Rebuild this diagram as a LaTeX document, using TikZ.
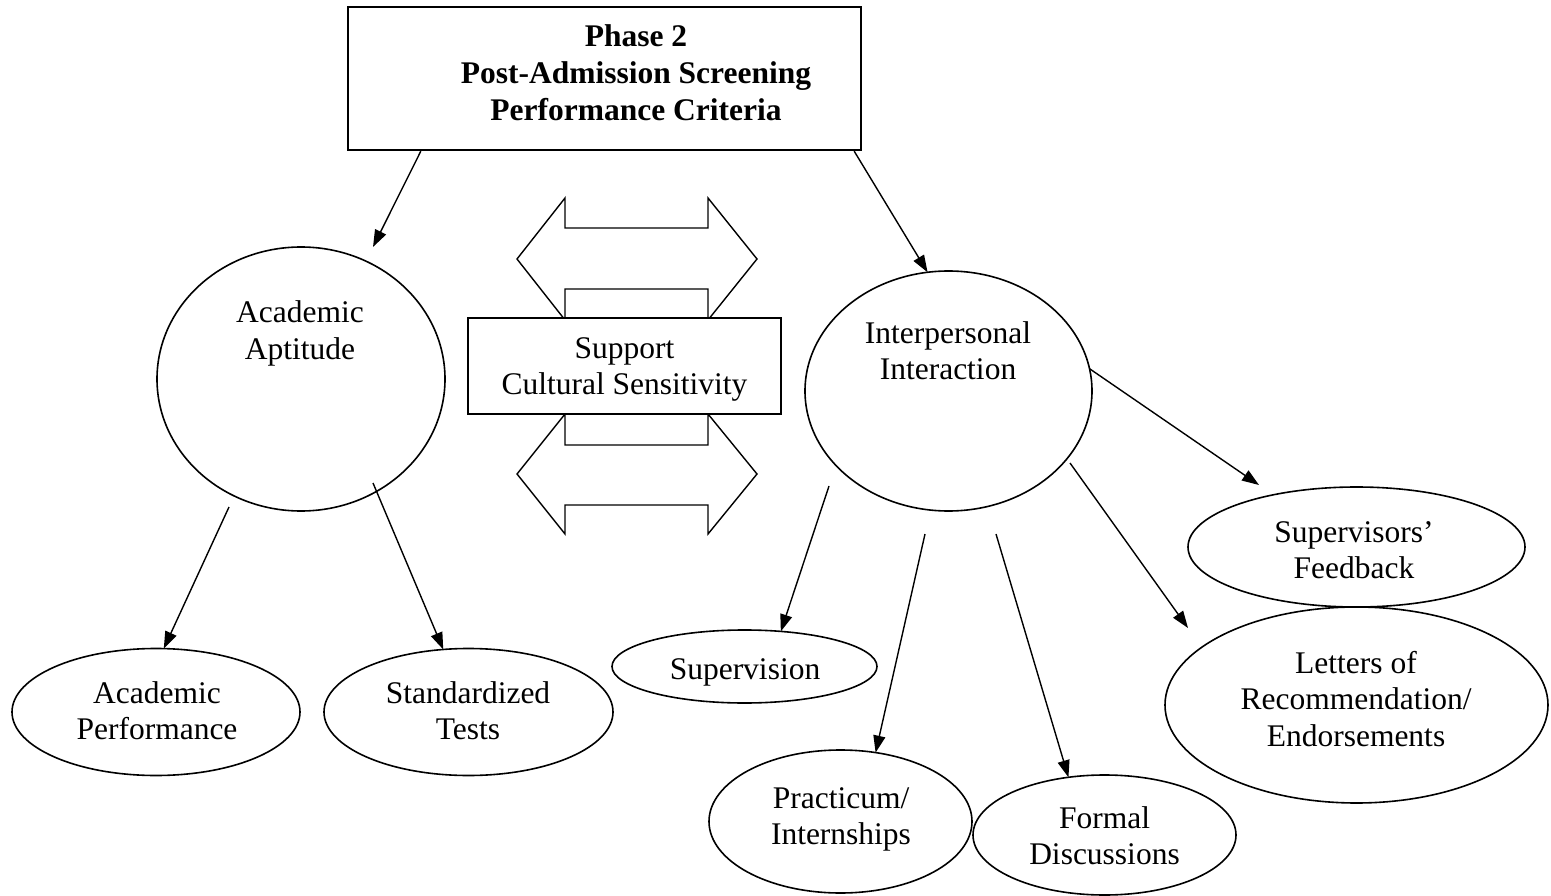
\documentclass[tikz,border=0pt]{standalone}
\usepackage{fontspec}
\setmainfont{Liberation Serif}
\usetikzlibrary{arrows.meta,calc,shapes.geometric}
\begin{document}
\begin{tikzpicture}[x=1pt,y=-1pt,
  shp/.style={draw, line width=1.6pt, ellipse, inner sep=0pt, outer sep=0pt},
  txt/.style={align=center, inner sep=0pt, font=\fontsize{31.5}{36.5}\selectfont},
  ttl/.style={align=center, inner sep=0pt, font=\fontsize{31.5}{37}\selectfont\bfseries},
  arr/.style={-{Triangle[length=17pt,width=12pt]}, line width=1.4pt},
  blockarr/.style={draw, line width=1.4pt, fill=white, line join=miter}]
\useasboundingbox (0,0) rectangle (1551,896);

% title box
\node[draw, line width=2.4pt, minimum width=513pt, minimum height=143pt, inner sep=0pt] (title) at (604.5,78.5) {};
\node[ttl] (titletext) at (636,76.3) {\strut Phase 2\\\strut Post-Admission Screening\\\strut Performance Criteria};

% block double arrows
\draw[blockarr] (517,259) -- (565,198) -- (565,228) -- (708,228) -- (708,198) -- (757,259)
  -- (708,320) -- (708,289) -- (565,289) -- (565,320) -- cycle;
\draw[blockarr] (517,474) -- (565,414) -- (565,445) -- (708,445) -- (708,414) -- (757,474)
  -- (708,534) -- (708,505) -- (565,505) -- (565,534) -- cycle;

% support box
\node[draw, fill=white, line width=1.8pt, minimum width=313pt, minimum height=96pt, inner sep=0pt] (support) at (624.5,366) {};
\node[txt] (supporttext) at (624.5,369.25) {\strut Support\\\strut Cultural Sensitivity};

% ellipses
\node[shp, minimum width=288pt, minimum height=264pt] (aa) at (301,379) {};
\node[txt] (aatext) at (300,333.95) {\strut Academic\\\strut Aptitude};

\node[shp, minimum width=287pt, minimum height=240pt] (ip) at (948.5,391) {};
\node[txt] (iptext) at (948,354.25) {\strut Interpersonal\\\strut Interaction};

\node[shp, minimum width=288pt, minimum height=127pt] (ap) at (156,712) {};
\node[txt] (aptext) at (157,713.95) {\strut Academic\\\strut Performance};

\node[shp, minimum width=289pt, minimum height=127pt] (st) at (468.5,712) {};
\node[txt] (sttext) at (468,713.95) {\strut Standardized\\\strut Tests};

\node[shp, minimum width=265pt, minimum height=73pt] (sv) at (744.5,666.5) {};
\node[txt] (svtext) at (745,671.7) {\strut Supervision};

\node[shp, minimum width=263pt, minimum height=143pt] (pr) at (840.5,821.5) {};
\node[txt] (prtext) at (841,818.95) {\strut Practicum/\\\strut Internships};

\node[shp, minimum width=263pt, minimum height=120pt] (fd) at (1104.5,835) {};
\node[txt] (fdtext) at (1104.5,838.95) {\strut Formal\\\strut Discussions};

\node[shp, minimum width=337pt, minimum height=120pt] (sf) at (1356.5,547) {};
\node[txt] (sftext) at (1354,552.95) {\strut Supervisors’\\\strut Feedback};

\node[shp, minimum width=383pt, minimum height=196pt] (lr) at (1356.5,705) {};
\node[txt] (lrtext) at (1356,702.2) {\strut Letters of\\\strut Recommendation/\\\strut Endorsements};

% free ends of connectors
\coordinate (aain) at (373,247);
\coordinate (aaout1) at (229,507);
\coordinate (aaout2) at (373,483);
\coordinate (sfin) at (1259,485);
\coordinate (ipout1) at (829,486);
\coordinate (ipout2) at (925,534);
\coordinate (ipout3) at (996,534);
\coordinate (ipout4) at (1070,463);
\coordinate (lrin) at (1188,628);

% connectors
\draw[arr] ($(title.south west)+(74,0)$) -- (aain);
\draw[arr] ($(title.south east)+(-8,0)$) -- (ip.100);
\draw[arr] (aaout1) -- (ap.83);
\draw[arr] (aaout2) -- (st.112);
\draw[arr] (ip.9.5) -- (sfin);
\draw[arr] (ipout1) -- (sv.44);
\draw[arr] (ipout2) -- (pr.63);
\draw[arr] (ipout3) -- (fd.122);
\draw[arr] (ipout4) -- (lrin);
\end{tikzpicture}
\end{document}
